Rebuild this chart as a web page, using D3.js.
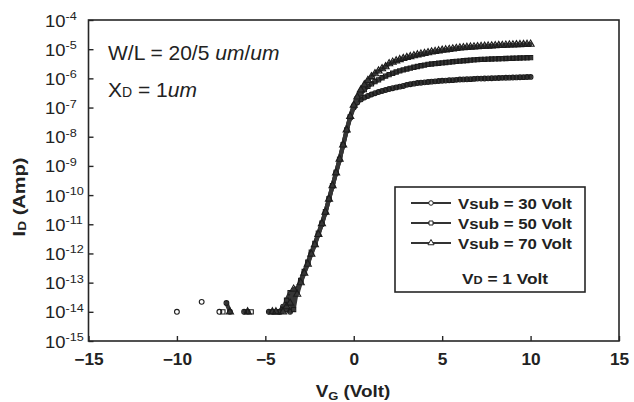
<!DOCTYPE html>
<html><head><meta charset="utf-8">
<script src="https://cdn.jsdelivr.net/npm/d3@7"></script>
<style>
body{margin:0;background:#fff}
svg{display:block}
text{font-family:Arial,"Liberation Sans",sans-serif;fill:#222}
</style>
</head><body>
<svg id="chart" width="634" height="402"></svg>
<script>
// ---------- data ----------
const xTicks = [-15, -10, -5, 0, 5, 10, 15];
const yTickExps = [-4, -5, -6, -7, -8, -9, -10, -11, -12, -13, -14, -15];
const seriesNames = ["Vsub = 30 Volt", "Vsub = 50 Volt", "Vsub = 70 Volt"];

// gate-voltage sweep (Volt)
const vgSweep = [-3.6,-3.4,-3.2,-3.0,-2.8,-2.6,-2.4,-2.2,-2.0,-1.8,
  -1.6,-1.4,-1.2,-1.0,-0.8,-0.6,-0.4,-0.2,0,0.2,
  0.4,0.6,0.8,1.0,1.2,1.4,1.6,1.8,2.0,2.2,
  2.4,2.6,2.8,3.0,3.2,3.4,3.6,3.8,4.0,4.2,
  4.4,4.6,4.8,5.0,5.2,5.4,5.6,5.8,6.0,6.2,
  6.4,6.6,6.8,7.0,7.2,7.4,7.6,7.8,8.0,8.2,
  8.4,8.6,8.8,9.0,9.2,9.4,9.6,9.8,10.0];

// drain current (Amp)
const id30 = [1.0e-14,2.5e-14,5e-14,1.1e-13,2.2e-13,4.5e-13,1.0e-12,2.0e-12,4.5e-12,1.0e-11,
  2.5e-11,7.1e-11,2.0e-10,5.6e-10,1.6e-9,5.0e-9,1.6e-8,4.5e-8,1.0e-7,1.5e-7,
  1.9e-7,2.2e-7,2.5e-7,2.8e-7,3.1e-7,3.4e-7,3.7e-7,4.0e-7,4.3e-7,4.6e-7,
  4.9e-7,5.2e-7,5.5e-7,6.0e-7,6.3e-7,6.6e-7,6.9e-7,7.1e-7,7.3e-7,7.5e-7,
  7.7e-7,7.9e-7,8.1e-7,8.3e-7,8.4e-7,8.6e-7,8.7e-7,8.9e-7,9.1e-7,9.2e-7,
  9.3e-7,9.4e-7,9.6e-7,9.8e-7,9.8e-7,9.9e-7,1.0e-6,1.01e-6,1.02e-6,1.03e-6,
  1.04e-6,1.05e-6,1.06e-6,1.07e-6,1.08e-6,1.09e-6,1.1e-6,1.11e-6,1.12e-6];

const id50 = [4.5e-14,1.2e-14,6e-14,1.2e-13,2.4e-13,5e-13,1.1e-12,2.2e-12,5e-12,1.1e-11,
  2.7e-11,7.5e-11,2.1e-10,6e-10,1.7e-9,5.3e-9,1.7e-8,4.8e-8,1.1e-7,2.0e-7,
  3.0e-7,4.1e-7,5.3e-7,6.5e-7,7.7e-7,8.9e-7,1.05e-6,1.2e-6,1.35e-6,1.5e-6,
  1.65e-6,1.8e-6,1.95e-6,2.1e-6,2.25e-6,2.4e-6,2.55e-6,2.7e-6,2.85e-6,3.0e-6,
  3.1e-6,3.2e-6,3.3e-6,3.4e-6,3.5e-6,3.6e-6,3.7e-6,3.8e-6,3.9e-6,4.0e-6,
  4.1e-6,4.2e-6,4.3e-6,4.4e-6,4.45e-6,4.5e-6,4.55e-6,4.6e-6,4.65e-6,4.7e-6,
  4.75e-6,4.8e-6,4.85e-6,4.9e-6,4.95e-6,5.0e-6,5.05e-6,5.1e-6,5.15e-6];

const id70 = [2e-14,6e-14,4e-14,1.0e-13,2.1e-13,4.3e-13,9.5e-13,2.0e-12,4.5e-12,1.05e-11,
  2.6e-11,7.3e-11,2.1e-10,5.8e-10,1.7e-9,5.2e-9,1.7e-8,5.0e-8,1.2e-7,2.3e-7,
  4.0e-7,6.0e-7,8.5e-7,1.15e-6,1.45e-6,1.8e-6,2.15e-6,2.5e-6,3.2e-6,3.6e-6,
  4.0e-6,4.4e-6,4.8e-6,5.2e-6,5.6e-6,6.0e-6,6.4e-6,6.8e-6,7.2e-6,7.6e-6,
  8.0e-6,8.4e-6,8.8e-6,9.2e-6,9.5e-6,9.8e-6,1.02e-5,1.06e-5,1.1e-5,1.13e-5,
  1.16e-5,1.18e-5,1.2e-5,1.22e-5,1.24e-5,1.26e-5,1.28e-5,1.3e-5,1.32e-5,1.34e-5,
  1.35e-5,1.37e-5,1.39e-5,1.4e-5,1.42e-5,1.44e-5,1.45e-5,1.47e-5,1.48e-5];

// noise-floor points below threshold (others fall below the axis)
const floorVg30 = [-10, -8.6, -7.6, -7.2, -7.0, -6.2, -6.0, -4.8, -4.6, -4.2, -4.0, -3.8];
const floorId30 = [1e-14, 2.2e-14, 1e-14, 2e-14, 1e-14, 1e-14, 1e-14, 1e-14, 1e-14, 1e-14, 1.5e-14, 1.2e-14];
const floorVg50 = [-7.4, -5.8, -4.4, -4.2, -4.0, -3.8];
const floorId50 = [1e-14, 1e-14, 1e-14, 1e-14, 1.2e-14, 2.5e-14];
const floorVg70 = [-7.0, -6.0, -4.6, -4.4, -4.0, -3.8];
const floorId70 = [1e-14, 1e-14, 1e-14, 1e-14, 1e-14, 1.5e-14];

// ---------- chart ----------
const svg = d3.select("#chart");
const plot = {left: 88.5, right: 619, top: 20, bottom: 341};

const x = d3.scaleLinear().domain([-15, 15]).range([plot.left, plot.right]);
const y = d3.scaleLog().domain([1e-15, 1e-4]).range([plot.bottom, plot.top]);

const ink = "#262626";

// x axis (ticks point inward)
const xAxis = svg.append("g")
  .attr("transform", `translate(0,${plot.bottom})`)
  .call(d3.axisBottom(x).tickValues(xTicks).tickSize(-5).tickPadding(12).tickFormat(d3.format("d")));
xAxis.select(".domain").remove();
xAxis.selectAll("line").attr("stroke", ink).attr("stroke-width", 1.4);
xAxis.selectAll("text").attr("font-size", 16).attr("font-weight", "bold")
  .attr("font-family", "Arial, 'Liberation Sans', sans-serif").attr("fill", ink)
  .attr("dy", null).attr("y", 24).attr("transform", "scale(1.08,1)");

// y axis (ticks point inward, labels drawn with superscripts)
const yAxis = svg.append("g")
  .attr("transform", `translate(${plot.left},0)`)
  .call(d3.axisLeft(y).tickValues(yTickExps.map(e => Math.pow(10, e))).tickSize(-5).tickFormat(""));
yAxis.select(".domain").remove();
yAxis.selectAll("line").attr("stroke", ink).attr("stroke-width", 1.4);

const yLab = svg.append("g");
yTickExps.forEach(e => {
  const t = yLab.append("text")
    .attr("transform", `translate(45,${y(Math.pow(10, e)) + 6.5}) scale(1.15,1)`)
    .attr("font-size", 16).attr("fill", ink);
  t.append("tspan").text("10");
  t.append("tspan").attr("font-size", 11).attr("dy", -6.5).text(String(e));
});

// frame
svg.append("rect")
  .attr("x", plot.left).attr("y", plot.top)
  .attr("width", plot.right - plot.left).attr("height", plot.bottom - plot.top)
  .attr("fill", "none").attr("stroke", ink).attr("stroke-width", 1.6);

// axis titles
const yt = svg.append("text")
  .attr("transform", `translate(25,197) rotate(-90) scale(1.25,1)`)
  .attr("text-anchor", "middle").attr("font-size", 16).attr("font-weight", "bold").attr("fill", ink);
yt.append("tspan").text("I");
yt.append("tspan").attr("font-size", 11).attr("dy", 1).text("D");
yt.append("tspan").attr("dy", -1).text(" (Amp)");

const xt = svg.append("text")
  .attr("transform", `translate(353,397) scale(1.18,1)`)
  .attr("text-anchor", "middle").attr("font-size", 16).attr("font-weight", "bold").attr("fill", ink);
xt.append("tspan").text("V");
xt.append("tspan").attr("font-size", 11).attr("dy", 3).text("G");
xt.append("tspan").attr("dy", -3).text(" (Volt)");

// annotation
const a1 = svg.append("text").attr("x", 108).attr("y", 60).attr("font-size", 21).attr("fill", ink);
a1.append("tspan").text("W/L = 20/5 ");
a1.append("tspan").attr("font-style", "italic").text("um");
a1.append("tspan").text("/");
a1.append("tspan").attr("font-style", "italic").text("um");
const a2 = svg.append("text").attr("x", 108).attr("y", 97).attr("font-size", 21).attr("fill", ink);
a2.append("tspan").text("X");
a2.append("tspan").attr("font-size", 14).text("D");
a2.append("tspan").text(" = 1");
a2.append("tspan").attr("font-style", "italic").text("um");

// series
const symbols = [d3.symbolCircle, d3.symbolSquare, d3.symbolTriangle];
const sweeps = [id30, id50, id70];
const floorsVg = [floorVg30, floorVg50, floorVg70];
const floorsId = [floorId30, floorId50, floorId70];

svg.append("clipPath").attr("id", "clip").append("rect")
  .attr("x", plot.left).attr("y", plot.top).attr("width", plot.right - plot.left).attr("height", plot.bottom - plot.top);

const gData = svg.append("g").attr("clip-path", "url(#clip)");

seriesNames.forEach((name, s) => {
  const pts = floorsVg[s].map((v, i) => ({vg: v, id: floorsId[s][i]}))
    .concat(vgSweep.map((v, i) => ({vg: v, id: sweeps[s][i]})));
  const runs = [];
  let cur = [pts[0]];
  for (let i = 1; i < pts.length; i++) {
    if (pts[i].vg - pts[i - 1].vg > 0.25) { runs.push(cur); cur = []; }
    cur.push(pts[i]);
  }
  runs.push(cur);
  const line = d3.line().x(d => x(d.vg)).y(d => y(d.id));
  runs.filter(r => r.length > 1).forEach(r => {
    gData.append("path").attr("d", line(r))
      .attr("fill", "none").attr("stroke", "#363636").attr("stroke-width", 4.2)
      .attr("stroke-linejoin", "round").attr("stroke-linecap", "round");
  });
  gData.append("g").selectAll("path").data(pts).join("path")
    .attr("transform", d => `translate(${x(d.vg)},${y(d.id)})`)
    .attr("d", d3.symbol().type(symbols[s]).size(s === 2 ? 22 : 18))
    .attr("fill", "none").attr("stroke", "#1c1c1c").attr("stroke-width", 1.1);
});

// legend
const lg = svg.append("g");
lg.append("rect").attr("x", 395).attr("y", 187).attr("width", 190).attr("height", 105)
  .attr("fill", "#fff").attr("stroke", ink).attr("stroke-width", 1.6);
const rowsY = [203, 223, 243];
seriesNames.forEach((name, s) => {
  lg.append("line").attr("x1", 411).attr("x2", 451).attr("y1", rowsY[s]).attr("y2", rowsY[s])
    .attr("stroke", "#333").attr("stroke-width", 2);
  lg.append("path").attr("transform", `translate(431,${rowsY[s]})`)
    .attr("d", d3.symbol().type(symbols[s]).size(16))
    .attr("fill", "#fff").attr("stroke", "#222").attr("stroke-width", 1);
  lg.append("text").attr("transform", `translate(458,${rowsY[s] + 5.5}) scale(1.12,1)`)
    .attr("font-size", 15).attr("font-weight", "bold").attr("fill", ink).text(name);
});
const vd = lg.append("text").attr("transform", "translate(462,284) scale(1.15,1)")
  .attr("font-size", 15).attr("font-weight", "bold").attr("fill", ink);
vd.append("tspan").text("V");
vd.append("tspan").attr("font-size", 11).text("D");
vd.append("tspan").text(" = 1 Volt");
</script>
</body></html>
